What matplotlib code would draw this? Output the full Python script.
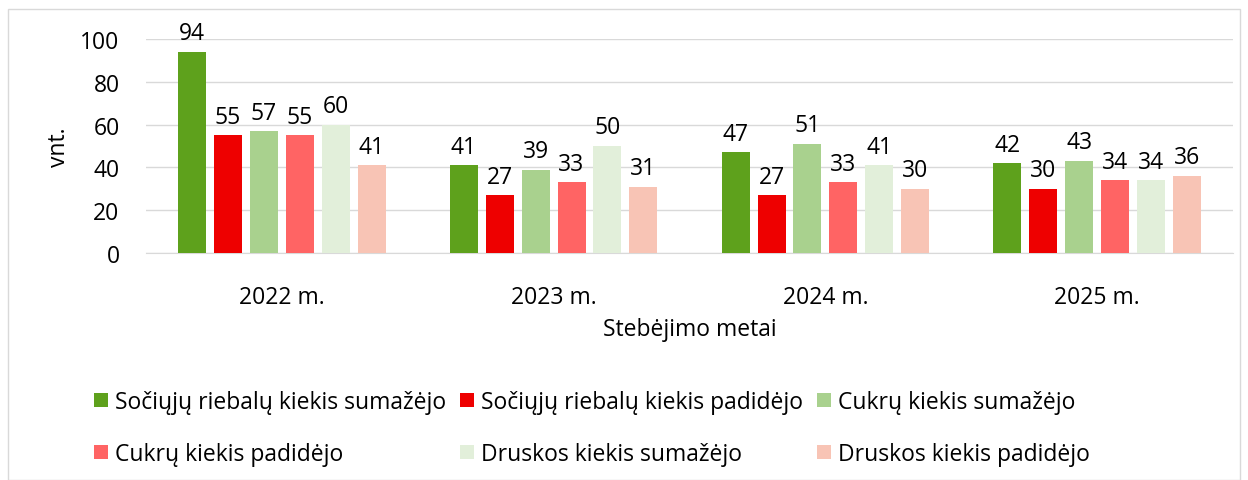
import matplotlib.pyplot as plt
from matplotlib.patches import Rectangle
import numpy as np

plt.rcParams['font.family'] = ['Open Sans', 'DejaVu Sans']

years = ['2022 m.', '2023 m.', '2024 m.', '2025 m.']
series_names = ['Sočiųjų riebalų kiekis sumažėjo', 'Sočiųjų riebalų kiekis padidėjo',
                'Cukrų kiekis sumažėjo', 'Cukrų kiekis padidėjo',
                'Druskos kiekis sumažėjo', 'Druskos kiekis padidėjo']
riebalai_sumazejo = [94, 41, 47, 42]
riebalai_padidejo = [55, 27, 27, 30]
cukrus_sumazejo = [57, 39, 51, 43]
cukrus_padidejo = [55, 33, 33, 34]
druska_sumazejo = [60, 50, 41, 34]
druska_padidejo = [41, 31, 30, 36]
colors = ['#5EA11C', '#EE0000', '#A9D18E', '#FF6464', '#E2EFDA', '#F8C4B5']

all_series = [riebalai_sumazejo, riebalai_padidejo, cukrus_sumazejo,
              cukrus_padidejo, druska_sumazejo, druska_padidejo]

fs = 16.5

fig = plt.figure(figsize=(12.48, 4.81), dpi=100)
ax = fig.add_axes([146 / 1248, 1 - 254 / 481, 1087 / 1248, 214 / 481])

x = np.arange(len(years))
pitch = 0.132
width = 0.103
handles = []
for i, (vals, name, c) in enumerate(zip(all_series, series_names, colors)):
    pos = x + (i - 2.5) * pitch
    b = ax.bar(pos, vals, width, color=c, label=name, zorder=3)
    handles.append(b)
    # value labels above bars
    for p, v in zip(pos, vals):
        ax.annotate(str(v), (p, v), xytext=(0, 9), textcoords='offset points',
                    ha='center', va='baseline', fontsize=fs)

ax.set_xlim(-0.5, 3.5)
ax.set_ylim(0, 100)
ax.set_yticks(range(0, 101, 20))
ax.set_xticks(x)
ax.set_xticklabels(years)
ax.tick_params(axis='both', length=0, labelsize=fs)
ax.tick_params(axis='x', pad=23)
ax.tick_params(axis='y', pad=19)
ax.grid(axis='y', color='#D9D9D9', linewidth=1, zorder=0)
for s in ['top', 'right', 'left']:
    ax.spines[s].set_visible(False)
ax.spines['bottom'].set_color('#D9D9D9')
ax.set_ylabel('vnt.', fontsize=fs, labelpad=7)
ax.set_xlabel('Stebėjimo metai', fontsize=fs, labelpad=6)

# legend filled row by row
order = [0, 3, 1, 4, 2, 5]
fig.legend([handles[i] for i in order], [series_names[i] for i in order],
           loc='upper left', bbox_to_anchor=(94 / 1248, 1 - 391 / 481), ncol=3,
           frameon=False, fontsize=fs, handlelength=0.61, handleheight=0.61,
           handletextpad=0.3, columnspacing=0.62, labelspacing=1.22,
           borderpad=0, borderaxespad=0)

fig.patches.append(Rectangle((8 / 1248, 0), 1232 / 1248, 1 - 10 / 481,
                             transform=fig.transFigure, fill=False,
                             edgecolor='#D9D9D9', linewidth=1))

plt.savefig('out.png')
